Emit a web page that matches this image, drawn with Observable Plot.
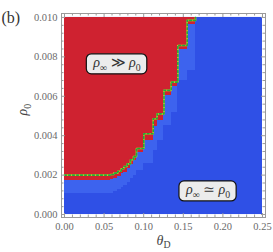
<!DOCTYPE html>
<html><head><meta charset="utf-8">
<script src="https://cdn.jsdelivr.net/npm/d3@7"></script>
<script src="https://cdn.jsdelivr.net/npm/@observablehq/plot@0.6"></script>
<style>
html,body{margin:0;padding:0;background:#fff;}
</style>
</head><body><div id="chart"></div>
<script>
// ---- data ----
const thetaStart = [0, 0.0581, 0.0622, 0.0673, 0.0716, 0.0749, 0.0792, 0.0833, 0.0871, 0.0909, 0.1001, 0.1120, 0.1170, 0.1256, 0.1347, 0.1431, 0.1549];
const thetaLast = 0.1654;
const rhoBoundary   = [0.0020, 0.00203, 0.0021, 0.0022, 0.00232, 0.00244, 0.00257, 0.00278, 0.00294, 0.00335, 0.0041, 0.00486, 0.00511, 0.0063, 0.00672, 0.00858, 0.00985];
const rhoRedBottom  = [0.00173, 0.00178, 0.00184, 0.00194, 0.00208, 0.00215, 0.00232, 0.00254, 0.00274, 0.00313, 0.00376, 0.00448, 0.00477, 0.00604, 0.0065, 0.00838, 0.00964];
const rhoBandBottom = [0.00107, 0.00107, 0.00117, 0.00127, 0.00137, 0.00147, 0.00162, 0.00183, 0.00198, 0.00223, 0.00259, 0.00325, 0.00376, 0.00452, 0.00518, 0.0068, 0.00731];
const thetaRange = [0, 0.25];
const rhoRange = [0, 0.01];
const xTicks = [0, 0.05, 0.10, 0.15, 0.20, 0.25];
const yTicks = [0, 0.002, 0.004, 0.006, 0.008, 0.010];
const regionLabels = ["ρ_∞ ≫ ρ_0", "ρ_∞ ≃ ρ_0"];
const labelTheta = [0.0663, 0.1812];
const labelRho = [0.00772, 0.00127];
const panelLabel = "(b)";
const xLabel = "θ_D";
const yLabel = "ρ_0";

// ---- layout / style ----
const width = 273, height = 252;
const mL = 61, mR = 8, mT = 13, mB = 35;
const W = width - mL - mR, H = height - mT - mB;
const RED = "#cf2230", BLUE = "#2f50e6", LIGHT = "#3d63ee";
const FRAME = "#9a9a9a";

const segs = thetaStart.map((t, i) => ({
  x1: t,
  x2: i + 1 < thetaStart.length ? thetaStart[i + 1] : thetaLast,
  b: rhoBoundary[i], r: rhoRedBottom[i], l: rhoBandBottom[i]
}));
const linePts = segs.map(s => ({x: s.x1, y: s.b})).concat([{x: thetaLast, y: rhoRange[1]}]);
const xMinor = d3.range(0, 25.5, 1).map(d => d / 100).filter(d => Math.abs(d * 20 - Math.round(d * 20)) > 1e-6);
const yMinor = d3.range(0, 25.5, 1).map(d => d * 0.0004).filter(d => Math.abs(d / 0.002 - Math.round(d / 0.002)) > 1e-6);
const labels = regionLabels.map((t, i) => ({t, x: labelTheta[i], y: labelRho[i]}));

const chart = Plot.plot({
  width, height,
  marginLeft: mL, marginRight: mR, marginTop: mT, marginBottom: mB,
  style: {fontFamily: "'Liberation Serif', 'DejaVu Serif', serif", fontSize: "10.5px", color: "#6a6a6a", background: "#fff"},
  x: {domain: [-0.0038, 0.2538], ticks: xTicks, tickFormat: d3.format(".2f"), tickSize: 0, tickPadding: 5, label: null},
  y: {domain: [-0.00015, 0.0102], ticks: yTicks, tickFormat: d3.format(".3f"), tickSize: 0, tickPadding: 4, label: null},
  marks: [
    Plot.rect([thetaRange], {x1: d => d[0], x2: d => d[1], y1: () => rhoRange[0], y2: () => rhoRange[1], fill: BLUE}),
    Plot.rect(segs, {x1: "x1", x2: "x2", y1: "l", y2: "r", fill: LIGHT, shapeRendering: "crispEdges"}),
    Plot.rect(segs, {x1: "x1", x2: "x2", y1: "r", y2: () => rhoRange[1], fill: RED, shapeRendering: "crispEdges"}),
    Plot.line(linePts, {x: "x", y: "y", curve: "step-after", stroke: "#e0d020", strokeWidth: 1.6}),
    Plot.line(linePts, {x: "x", y: "y", curve: "step-after", stroke: "#22a83a", strokeWidth: 1.6, strokeDasharray: "2,2"}),
    Plot.frame({stroke: FRAME, strokeWidth: 1}),
    // inward ticks on all four sides
    Plot.tickX(xTicks, {x: d => d, insetTop: H - 4, stroke: FRAME}),
    Plot.tickX(xTicks, {x: d => d, insetBottom: H - 4, stroke: FRAME}),
    Plot.tickX(xMinor, {x: d => d, insetTop: H - 2.5, stroke: FRAME}),
    Plot.tickX(xMinor, {x: d => d, insetBottom: H - 2.5, stroke: FRAME}),
    Plot.tickY(yTicks, {y: d => d, insetRight: W - 4, stroke: FRAME}),
    Plot.tickY(yTicks, {y: d => d, insetLeft: W - 4, stroke: FRAME}),
    Plot.tickY(yMinor, {y: d => d, insetRight: W - 2.5, stroke: FRAME}),
    Plot.tickY(yMinor, {y: d => d, insetLeft: W - 2.5, stroke: FRAME}),
    Plot.text(labels, {x: "x", y: "y", text: "t", fontSize: 14, fill: "#333"}),
    Plot.text([xLabel], {text: d => d, frameAnchor: "bottom", dy: 27, fontSize: 14, fill: "#444"}),
    Plot.text([yLabel], {text: d => d, frameAnchor: "left", dx: -39, rotate: -90, fontSize: 14, fill: "#444"}),
    Plot.text([panelLabel], {text: d => d, frameAnchor: "top-left", dx: -60, dy: -2, textAnchor: "start", fontSize: 16, fill: "#333"})
  ]
});
document.getElementById("chart").appendChild(chart);

const NS = "http://www.w3.org/2000/svg";
// remember which texts are region labels (before rewriting their content)
const regionEls = Array.from(chart.querySelectorAll("text")).filter(el => regionLabels.includes(el.textContent));

// subscripts and italic Greek letters as tspans
function markup(el) {
  const s = el.textContent;
  if (!/[_ρθ]/.test(s)) return;
  const fs = parseFloat(getComputedStyle(el).fontSize) || 12;
  const sh = fs * 0.28;
  el.textContent = "";
  const re = /_(.)|([ρθ])|([^_ρθ]+)/g;
  let m, shifted = false;
  while ((m = re.exec(s))) {
    const t = document.createElementNS(NS, "tspan");
    if (m[1]) {
      t.textContent = m[1];
      t.setAttribute("font-size", fs * 0.7);
      t.setAttribute("font-style", "normal");
      t.setAttribute("dy", sh);
      shifted = true;
    } else {
      t.textContent = m[2] || m[3];
      if (m[2]) t.setAttribute("font-style", "italic");
      if (shifted) { t.setAttribute("dy", -sh); shifted = false; }
    }
    el.appendChild(t);
  }
}
chart.querySelectorAll("text").forEach(markup);

// rounded boxes behind region labels
regionEls.forEach(el => {
  const bb = el.getBBox();
  const r = document.createElementNS(NS, "rect");
  const w = bb.width + 12, h = 20;
  r.setAttribute("x", bb.x + bb.width / 2 - w / 2);
  r.setAttribute("y", bb.y + bb.height / 2 - h / 2);
  r.setAttribute("width", w);
  r.setAttribute("height", h);
  r.setAttribute("rx", 5);
  r.setAttribute("fill", "#ececec");
  r.setAttribute("stroke", "#111");
  r.setAttribute("stroke-width", 1.2);
  const tr = el.getAttribute("transform");
  if (tr) r.setAttribute("transform", tr);
  el.parentNode.insertBefore(r, el);
});
</script>
</body></html>
